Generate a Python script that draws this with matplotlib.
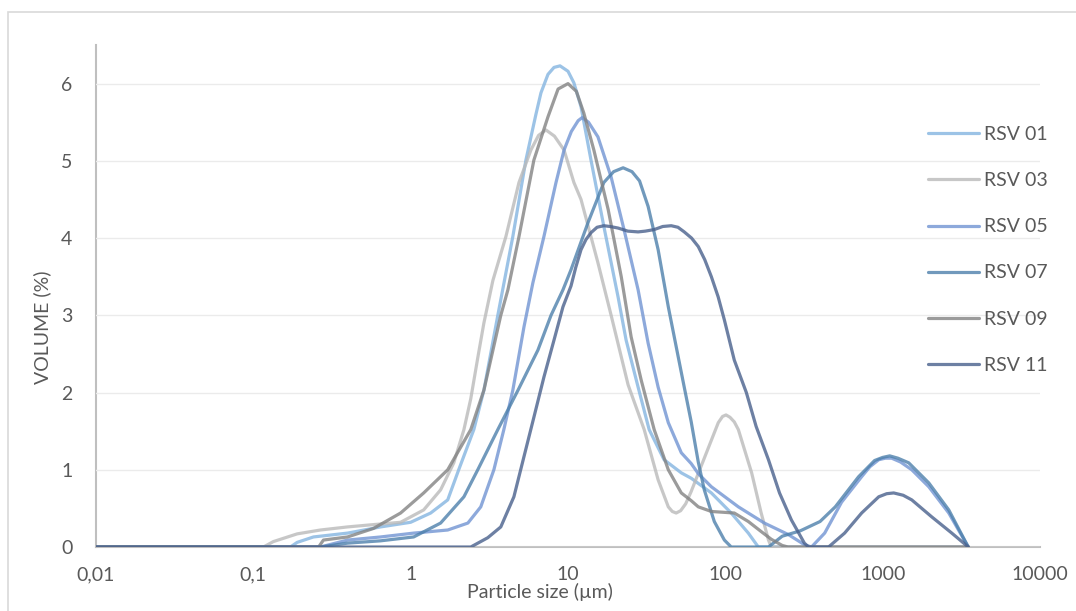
import matplotlib
matplotlib.use("Agg")
import matplotlib.pyplot as plt
from matplotlib.patches import Rectangle

# particle size (µm) / volume (%)
rsv01_x = [0.01, 0.172, 0.19, 0.241, 0.397, 0.644, 1.0, 1.34, 1.72, 2.02, 2.52, 2.92, 3.58,
           4.46, 5.40, 6.25, 6.73, 7.46, 8.15, 8.9, 10.0, 10.9, 12.1, 14.0, 16.9, 20.8,
           23.4, 27.9, 32.8, 40.8, 52.5, 60.7, 81.5, 109, 140, 162, 3500]
rsv01_y = [0, 0, 0.06, 0.13, 0.18, 0.26, 0.32, 0.44, 0.61, 1.0, 1.52, 2.03, 3.0,
           4.02, 5.01, 5.6, 5.88, 6.12, 6.21, 6.23, 6.16, 6.01, 5.70, 5.01, 4.15, 3.24,
           2.68, 2.07, 1.52, 1.13, 0.96, 0.89, 0.70, 0.44, 0.18, 0, 0]

rsv03_x = [0.01, 0.116, 0.134, 0.19, 0.267, 0.397, 0.58, 0.863, 1.21, 1.55, 1.88, 2.18,
           2.41, 2.67, 2.92, 3.33, 4.03, 4.88, 5.81, 6.5, 7.24, 8.2, 9.44, 10.9, 12.1, 15.5,
           18.8, 24.1, 30.5, 37.4, 43.4, 46, 48.7, 52, 56, 60.7, 73.5, 90.2, 96, 101,
           107, 114, 121, 147, 169, 188, 196, 3500]
rsv03_y = [0, 0, 0.07, 0.17, 0.22, 0.26, 0.29, 0.32, 0.48, 0.74, 1.09, 1.52,
           1.92, 2.45, 2.9, 3.45, 4.02, 4.72, 5.14, 5.33, 5.40, 5.32, 5.14, 4.72, 4.5, 3.68,
           3.0, 2.1, 1.52, 0.87, 0.52, 0.46, 0.44, 0.47, 0.56, 0.72, 1.15, 1.61, 1.69, 1.71,
           1.68, 1.62, 1.52, 0.96, 0.44, 0.09, 0, 0]

rsv05_x = [0.01, 0.267, 0.397, 0.644, 1.045, 1.72, 2.31, 2.79, 3.38, 3.91, 4.46, 5.25,
           5.98, 7.03, 8.39, 9.44, 10.5, 11.6, 12.3, 13.5, 15.5, 18.8, 22.7, 27.9, 32.3,
           37.4, 43.4, 52.5, 60.7, 67.3, 81.5, 121, 177, 252, 318, 353, 428, 548, 735,
           830, 944, 1040, 1141, 1300, 1531, 1964, 2631, 3500]
rsv05_y = [0, 0, 0.09, 0.13, 0.18, 0.22, 0.31, 0.52, 1.0, 1.52, 2.03, 2.85,
           3.42, 4.02, 4.72, 5.14, 5.38, 5.52, 5.56, 5.50, 5.31, 4.79, 4.11, 3.33, 2.64,
           2.07, 1.61, 1.22, 1.08, 0.95, 0.78, 0.52, 0.31, 0.16, 0.03, 0, 0.18, 0.58, 0.91,
           1.04, 1.13, 1.15, 1.15, 1.10, 1.0, 0.78, 0.44, 0]

rsv07_x = [0.01, 0.267, 0.397, 0.644, 1.045, 1.55, 2.18, 2.67, 3.58, 4.81, 6.44, 7.80,
           9.29, 10.45, 13.4, 16.9, 19.5, 22.4, 25.5, 28.5, 32.3, 37.4, 43.4, 50.2, 54.8,
           60.7, 67.3, 73.5, 85.1, 98.6, 109, 188, 230, 300, 400, 500, 560, 703, 889,
           1000, 1109, 1250, 1464, 1964, 2631, 3500]
rsv07_y = [0, 0, 0.05, 0.08, 0.13, 0.31, 0.65, 1.0, 1.52, 2.03, 2.55, 3.0,
           3.33, 3.59, 4.2, 4.72, 4.86, 4.91, 4.86, 4.74, 4.41, 3.85, 3.11, 2.46, 2.07,
           1.62, 1.1, 0.74, 0.33, 0.09, 0, 0, 0.14, 0.21, 0.33, 0.52, 0.65, 0.91, 1.12,
           1.16, 1.18, 1.15, 1.09, 0.83, 0.48, 0]

rsv09_x = [0.01, 0.26, 0.279, 0.397, 0.58, 0.863, 1.21, 1.72, 2.41, 2.92, 3.74, 4.15,
           4.88, 6.07, 7.46, 8.65, 10.0, 11.3, 12.6, 14.6, 18.0, 21.8, 25.2, 29.2, 35.3,
           43.4, 52.5, 60.7, 67.3, 81.5, 114, 140, 169, 196, 230, 250, 3500]
rsv09_y = [0, 0, 0.09, 0.13, 0.24, 0.44, 0.70, 1.0, 1.52, 2.03, 3.0, 3.33,
           4.02, 5.01, 5.57, 5.93, 6.0, 5.9, 5.62, 5.14, 4.37, 3.5, 2.72, 2.16, 1.52,
           1.0, 0.70, 0.60, 0.52, 0.46, 0.44, 0.33, 0.2, 0.1, 0.02, 0, 0]

rsv11_x = [0.01, 2.41, 3.09, 3.74, 4.53, 5.25, 6.07, 7.03, 8.15, 9.29, 10.45, 11.2, 12.1,
           13.0, 14.0, 15.3, 16.9, 18.5, 20.8, 24.0, 27.9, 31.0, 35.3, 40.0, 45.3, 50.0,
           54.8, 61.0, 67.3, 74.0, 81.5, 90.0, 98.6, 114, 136, 157, 188, 221, 263, 318,
           338, 453, 573, 735, 944, 1060, 1175, 1350, 1531, 2051, 2750, 3500]
rsv11_y = [0, 0, 0.12, 0.26, 0.65, 1.17, 1.68, 2.2, 2.68, 3.11, 3.38, 3.62, 3.85,
           3.98, 4.07, 4.14, 4.16, 4.15, 4.13, 4.09, 4.08, 4.09, 4.11, 4.15, 4.16, 4.14,
           4.08, 4.0, 3.89, 3.72, 3.5, 3.24, 2.94, 2.42, 2.0, 1.56, 1.13, 0.7, 0.35, 0.05,
           0, 0, 0.18, 0.44, 0.65, 0.69, 0.70, 0.67, 0.61, 0.39, 0.18, 0]

labels = ["RSV 01", "RSV 03", "RSV 05", "RSV 07", "RSV 09", "RSV 11"]
colors = ["#84B4E0", "#BABABA", "#7194D2", "#4D80AB", "#828282", "#49608C"]
xticks = [0.01, 0.1, 1, 10, 100, 1000, 10000]
xtick_labels = ["0,01", "0,1", "1", "10", "100", "1000", "10000"]

series = [(rsv01_x, rsv01_y), (rsv03_x, rsv03_y), (rsv05_x, rsv05_y),
          (rsv07_x, rsv07_y), (rsv09_x, rsv09_y), (rsv11_x, rsv11_y)]

plt.rcParams['font.family'] = ['Lato', 'DejaVu Sans']
text_col = "#595959"

fig = plt.figure(figsize=(10.76, 6.11), dpi=100)
fig.patches.append(Rectangle((8 / 1076, -0.05), 1.2, 1 - 12 / 611 + 0.05,
                             transform=fig.transFigure, fill=False,
                             edgecolor="#D9D9D9", linewidth=1.2))
ax = fig.add_axes([96 / 1076, 1 - 547 / 611, (1040 - 96) / 1076, (547 - 45) / 611])

for (xs, ys), lab, col in zip(series, labels, colors):
    ax.plot(xs, ys, color=col, lw=2.3, alpha=0.8, label=lab,
            solid_joinstyle="round", solid_capstyle="round")

ax.set_xscale("log")
ax.set_xlim(0.01, 10000)
ax.set_ylim(0, 6.5)
ax.set_xticks(xticks)
ax.set_xticklabels(xtick_labels)
ax.minorticks_off()
ax.set_yticks(range(7))
ax.tick_params(axis="both", length=0, labelsize=14, labelcolor=text_col)
ax.tick_params(axis="x", pad=14)
ax.tick_params(axis="y", pad=17)
ax.grid(axis="y", color="#EBEBEB", lw=1)
ax.set_axisbelow(True)
for s in ["top", "right"]:
    ax.spines[s].set_visible(False)
for s in ["left", "bottom"]:
    ax.spines[s].set_color("#BFBFBF")
    ax.spines[s].set_linewidth(1.5)
    ax.spines[s].set_zorder(0.5)

fig.text(540 / 1076, 1 - 592 / 611, "Particle size (µm)", ha="center", va="center",
         fontsize=14, color=text_col)
fig.text(42 / 1076, 1 - 327 / 611, "VOLUME (%)", ha="center", va="center",
         rotation=90, fontsize=14, color=text_col)

leg = fig.legend(loc="upper left", bbox_to_anchor=(928 / 1076, 1 - 126 / 611),
                 frameon=False, fontsize=14, handlelength=2.6, handletextpad=0.3,
                 labelspacing=1.5, borderpad=0, borderaxespad=0)
for t in leg.get_texts():
    t.set_color(text_col)

fig.savefig("out.png", dpi=100)
